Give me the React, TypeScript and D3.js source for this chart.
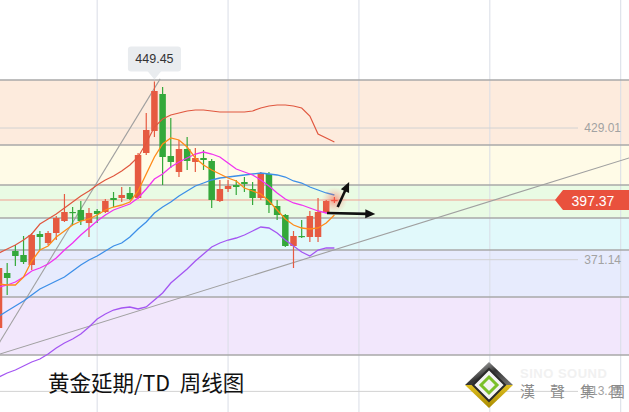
import React from 'react';
import * as d3 from 'd3';

const W = 629;
const H = 412;

// Weekly candles (index 0..41)
const opens = [341.12, 365.29, 374.96, 373.20, 368.80, 382.43, 378.47, 382.87, 388.14, 392.10, 392.98, 387.26, 392.54, 392.10, 398.25, 398.25, 400.45, 398.25, 418.02, 427.69, 443.95, 416.71, 409.67, 419.78, 414.07, 415.83, 414.51, 396.93, 402.20, 403.96, 405.28, 402.20, 398.25, 408.80, 394.73, 390.78, 377.16, 381.55, 381.11, 381.11, 392.10, 397.37];
const closes = [367.48, 363.09, 372.76, 370.12, 381.99, 381.11, 382.87, 389.46, 392.10, 391.66, 388.14, 391.66, 391.22, 396.93, 397.37, 399.57, 397.81, 417.15, 428.13, 445.27, 416.27, 414.07, 419.78, 414.51, 415.83, 414.95, 397.37, 402.20, 403.52, 403.08, 404.40, 398.25, 409.24, 395.17, 390.78, 377.16, 381.55, 381.11, 390.34, 392.10, 396.93, 397.37];
const highs = [370.12, 369.68, 377.59, 381.55, 382.87, 383.75, 383.75, 390.34, 400.01, 394.29, 396.93, 393.85, 393.41, 397.81, 400.89, 403.08, 403.08, 418.02, 435.60, 449.45, 447.03, 433.41, 423.74, 425.06, 420.22, 419.34, 415.39, 406.16, 406.16, 406.16, 407.48, 405.28, 409.67, 409.67, 397.37, 391.22, 383.75, 388.58, 392.54, 398.25, 397.37, 398.69];
const lows = [339.36, 355.62, 368.36, 369.24, 366.61, 375.40, 377.59, 379.79, 387.70, 386.38, 386.38, 381.11, 387.26, 391.66, 394.29, 396.49, 397.37, 397.81, 417.15, 425.06, 403.96, 411.43, 407.48, 410.55, 409.67, 410.55, 393.85, 396.49, 400.89, 399.57, 400.89, 395.17, 397.37, 391.66, 388.58, 376.72, 367.48, 380.67, 378.91, 378.91, 391.66, 396.05];

// Indicator lines
const upperBand = [374.08, 375.84, 377.59, 379.79, 382.43, 386.82, 389.02, 391.22, 393.85, 396.49, 399.13, 401.33, 403.96, 406.16, 407.92, 410.11, 412.75, 416.27, 422.42, 429.45, 432.97, 434.72, 435.60, 436.48, 436.92, 436.92, 436.48, 436.04, 436.04, 436.04, 436.04, 436.48, 437.80, 438.68, 439.12, 439.12, 438.68, 437.80, 434.28, 426.37, 424.62, 422.86];
const midBand = [346.39, 348.59, 350.79, 352.99, 355.62, 358.26, 360.02, 361.77, 363.53, 366.17, 368.81, 371.00, 372.76, 374.96, 377.16, 378.47, 381.11, 384.63, 387.70, 391.66, 394.29, 396.49, 399.13, 401.33, 403.52, 404.84, 406.16, 407.04, 407.48, 407.92, 408.36, 408.80, 409.24, 408.80, 408.36, 407.48, 405.72, 404.84, 403.08, 401.76, 400.45, 399.57];
const ma10 = [359.14, 360.02, 361.34, 363.53, 366.17, 367.49, 369.25, 371.88, 375.40, 378.47, 381.99, 385.07, 388.14, 390.78, 392.98, 394.29, 395.61, 398.25, 402.20, 406.60, 408.80, 411.87, 414.07, 415.83, 417.58, 418.46, 417.58, 416.27, 413.63, 410.99, 409.67, 408.36, 406.16, 403.52, 400.45, 397.81, 396.05, 395.17, 393.85, 392.54, 391.66, 391.66];
const ma5 = [360.46, 360.02, 360.02, 363.53, 370.56, 375.40, 377.16, 381.11, 383.75, 386.38, 388.14, 389.02, 390.78, 392.98, 394.29, 395.17, 396.49, 401.33, 408.80, 416.27, 421.98, 424.62, 423.74, 420.66, 415.83, 412.75, 410.55, 408.80, 407.04, 405.72, 402.64, 401.33, 400.01, 396.93, 392.98, 389.02, 386.38, 385.07, 384.63, 385.07, 387.26, 390.78];
const lowerBand = [319.59, 321.34, 322.66, 324.42, 326.18, 327.50, 329.69, 332.33, 334.53, 336.29, 338.48, 341.56, 345.08, 347.27, 349.03, 349.91, 350.35, 349.47, 350.35, 353.42, 356.50, 360.90, 363.97, 367.05, 370.56, 373.64, 376.72, 378.47, 379.79, 380.67, 381.99, 383.75, 385.50, 385.07, 382.87, 379.79, 377.16, 374.52, 372.76, 375.40, 376.28, 376.28];

// Fibonacci bands
const fibLevels = [450.10, 421.54, 403.96, 389.46, 375.40, 354.74, 329.25];
const bandColors = ['#fdebdd', '#fffbe7', '#e9fbe4', '#e1f9fb', '#e7ebfd', '#f2e7fc'];

// Axis labels
const axisTicks = [486.88, 429.01, 371.14, 313.27];
const tickLabels = ['486.88', '429.01', '371.14', '313.27'];
const lastPrice = 397.37;
const lastLabel = '397.37';
const peakIndex = 19;
const peakPrice = 449.45;
const peakLabel = '449.45';
const gridIndices = [12, 28, 44, 60, 76];

// Drawn trend lines and arrows (index, price)
const trendSteep: [number, number][] = [[-1, 328.6], [19.7, 450.6]];
const trendShallow: [number, number][] = [[-1, 328.43], [78, 416.95]];
const arrowUp: [number, number][] = [[41.4, 394.29], [42.8, 405.28]];
const arrowRight: [number, number][] = [[40.1, 391.66], [46.0, 391.22]];

const title = '黄金延期/TD\u00a0\u00a0周线图';
const logoChars = ['漢', '聲', '集', '團'];

const RED = '#e65a41';
const GREEN = '#34a83a';

function Arrow({ p0, p1 }: { p0: [number, number]; p1: [number, number] }) {
  const [x0, y0] = p0;
  const [x1, y1] = p1;
  const dx = x1 - x0, dy = y1 - y0;
  const L = Math.hypot(dx, dy);
  const ux = dx / L, uy = dy / L;
  const hl = 10, hw = 4.5;
  const bx = x1 - ux * hl, by = y1 - uy * hl;
  const px = -uy, py = ux;
  return (
    <g>
      <line x1={x0} y1={y0} x2={bx + ux * 2} y2={by + uy * 2} stroke="#111" strokeWidth={2.6} />
      <polygon
        points={`${x1},${y1} ${bx + px * hw},${by + py * hw} ${bx - px * hw},${by - py * hw}`}
        fill="#111"
      />
    </g>
  );
}

export default function App() {
  const x = d3.scaleLinear().domain([0, 41]).range([-1, 334.4]);
  const y = d3.scaleLinear().domain([397.37, 429.01]).range([200, 128]);
  const idx = d3.range(opens.length);

  const mkLine = (vals: number[]) =>
    d3.line<number>().x((_, i) => x(i)).y((v) => y(v))(vals) || '';
  const segLine = d3.line<[number, number]>().x((d) => x(d[0])).y((d) => y(d[1]));

  const bw = 6.5;
  const numFont = '"Liberation Sans", Arial, sans-serif';
  const px = x(peakIndex);
  const py = y(peakPrice);
  const ly = y(lastPrice);
  const glowX = x(41);

  const toPx = (p: [number, number]): [number, number] => [x(p[0]), y(p[1])];

  return (
    <svg width={W} height={H} style={{ position: 'fixed', left: 0, top: 0, background: '#fff' }}>
      <defs>
        <radialGradient id="glow">
          <stop offset="0%" stopColor="#ff4a3a" stopOpacity={0.55} />
          <stop offset="60%" stopColor="#ff6a5a" stopOpacity={0.2} />
          <stop offset="100%" stopColor="#ff8a7a" stopOpacity={0} />
        </radialGradient>
        <linearGradient id="logoTop" x1="0" y1="0" x2="1" y2="1">
          <stop offset="0%" stopColor="#e8e8e8" />
          <stop offset="50%" stopColor="#333" />
          <stop offset="100%" stopColor="#777" />
        </linearGradient>
        <linearGradient id="logoBot" x1="0" y1="0" x2="0" y2="1">
          <stop offset="0%" stopColor="#e0c020" />
          <stop offset="100%" stopColor="#a88a00" />
        </linearGradient>
      </defs>

      {/* Fibonacci bands */}
      {bandColors.map((c, i) => (
        <rect key={'b' + i} x={0} width={W} y={y(fibLevels[i])} height={y(fibLevels[i + 1]) - y(fibLevels[i])} fill={c} />
      ))}

      {/* vertical grid */}
      {gridIndices.map((g) => (
        <line key={'g' + g} x1={x(g)} x2={x(g)} y1={0} y2={H} stroke="#d9dde6" strokeWidth={1} />
      ))}

      {/* tick lines */}
      {axisTicks.map((t, i) => (
        <line key={'t' + i} x1={0} x2={578} y1={y(t)} y2={y(t)} stroke="#d2d2d2" strokeWidth={1} />
      ))}

      {/* fib lines */}
      {fibLevels.map((f, i) => (
        <line key={'f' + i} x1={0} x2={W} y1={y(f)} y2={y(f)} stroke="#a8a8a8" strokeWidth={1.4} />
      ))}

      {/* current price line */}
      <line x1={0} x2={556} y1={ly} y2={ly} stroke="#f2a090" strokeWidth={1.2} />

      {/* trend lines */}
      <path d={segLine(trendSteep) || ''} stroke="#a0a0a0" strokeWidth={1.1} fill="none" />
      <path d={segLine(trendShallow) || ''} stroke="#a0a0a0" strokeWidth={1.1} fill="none" />

      {/* candles */}
      {idx.map((i) => {
        const up = closes[i] >= opens[i];
        const col = up ? RED : GREEN;
        const top = y(Math.max(opens[i], closes[i]));
        const bot = y(Math.min(opens[i], closes[i]));
        const cx = x(i);
        return (
          <g key={'c' + i}>
            <line x1={cx} x2={cx} y1={y(highs[i])} y2={y(lows[i])} stroke={col} strokeWidth={1.2} />
            <rect x={cx - bw / 2} width={bw} y={top} height={Math.max(1.2, bot - top)} fill={col} />
          </g>
        );
      })}

      {/* indicator lines */}
      <path d={mkLine(lowerBand)} stroke="#a456f2" strokeWidth={1.3} fill="none" />
      <path d={mkLine(midBand)} stroke="#3d8fe8" strokeWidth={1.3} fill="none" />
      <path d={mkLine(upperBand)} stroke="#e0573f" strokeWidth={1.2} fill="none" />
      <path d={mkLine(ma10)} stroke="#f032f0" strokeWidth={1.3} fill="none" />
      <path d={mkLine(ma5)} stroke="#ff8a18" strokeWidth={1.3} fill="none" />

      {/* glow on current candle */}
      <circle cx={glowX} cy={ly} r={13} fill="url(#glow)" />

      {/* arrows */}
      <Arrow p0={toPx(arrowRight[0])} p1={toPx(arrowRight[1])} />
      <Arrow p0={toPx(arrowUp[0])} p1={toPx(arrowUp[1])} />

      {/* axis labels */}
      {axisTicks.map((t, i) => (
        <text key={'l' + i} x={621} y={y(t)} textAnchor="end" dominantBaseline="central" fontSize={12} fill="#a2a2a2" fontFamily={numFont}>
          {tickLabels[i]}
        </text>
      ))}

      {/* last price tag */}
      <polygon points={`555,${ly} 563,${ly - 10} ${W},${ly - 10} ${W},${ly + 10} 563,${ly + 10}`} fill="#e9513d" />
      <text x={593} y={ly + 0.5} textAnchor="middle" dominantBaseline="central" fontSize={14} fill="#fff" fontFamily={numFont}>
        {lastLabel}
      </text>

      {/* peak tooltip */}
      <rect x={px - 26.5} y={py - 35} width={53} height={25} rx={3} fill="#e9ecef" />
      <polygon points={`${px - 7},${py - 10.5} ${px + 7},${py - 10.5} ${px},${py - 2}`} fill="#e9ecef" />
      <text x={px} y={py - 22} textAnchor="middle" dominantBaseline="central" fontSize={12.5} fill="#333" fontFamily={numFont}>
        {peakLabel}
      </text>

      {/* title */}
      <text x={48} y={391} fontSize={21.5} fill="#111" fontFamily='"Noto Sans CJK SC", "Noto Sans", sans-serif' style={{ whiteSpace: 'pre' }}>
        {title}
      </text>

      {/* logo */}
      <g>
        <polygon points="489,362 513,385 465,385" fill="url(#logoTop)" />
        <polygon points="465,385 513,385 489,408" fill="url(#logoBot)" />
        <polygon points="489,369 505,385 489,401 473,385" fill="#f4f4f4" stroke="#2a2a2a" strokeWidth={2} />
        <polygon points="489,377 497,385 489,393 481,385" fill="none" stroke="#7cc02a" strokeWidth={3} />
        <text x={520} y={378} fontSize={13} fontWeight="bold" fill="#f1f1f1" fontFamily={numFont} letterSpacing={0.5}>
          SINO SOUND
        </text>
        {logoChars.map((ch, i) => (
          <text key={ch} x={520 + i * 30} y={397} fontSize={15} fill="#8a8a8a" fontFamily='"Noto Sans CJK TC", sans-serif'>
            {ch}
          </text>
        ))}
      </g>
    </svg>
  );
}
